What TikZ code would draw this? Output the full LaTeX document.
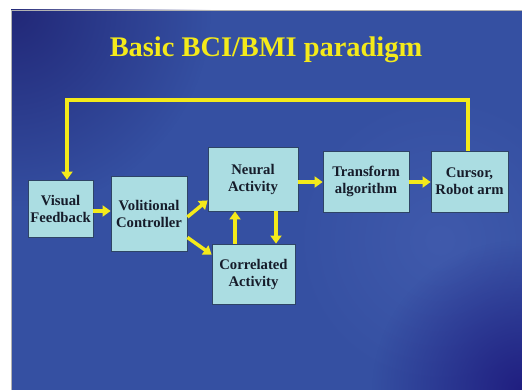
\documentclass[tikz,border=0pt]{standalone}
\usepackage{fontspec}
\setmainfont{Liberation Serif}
\usetikzlibrary{arrows.meta,fadings}
\tikzfading[name=glowfade, inner color=transparent!0, outer color=transparent!100]
\tikzstyle{block} = [rectangle, draw=boxline, line width=0.8pt, fill=boxfill, text=boxtext, align=center, inner sep=0pt, font=\bfseries\fontsize{14.7}{17}\selectfont]
\tikzstyle{arrow} = [draw=flowcolor, line width=3.5pt, -{Triangle[width=11pt,length=8pt]}]
\tikzstyle{glow} = [path fading=glowfade]

\begin{document}
\begin{tikzpicture}[x=1pt,y=-1pt]
  % Colors
  \definecolor{slideblue}{RGB}{53,80,162}
  \definecolor{cornerdark}{RGB}{34,40,120}
  \definecolor{cornerlow}{RGB}{32,30,128}
  \definecolor{slidelight}{RGB}{64,90,172}
  \definecolor{boxfill}{HTML}{ABDDE2}
  \definecolor{boxline}{HTML}{2E4466}
  \definecolor{boxtext}{HTML}{161C2A}
  \definecolor{flowcolor}{HTML}{F4EA1A}

  % Slide
  \useasboundingbox (0,0) rectangle (522,390);
  \fill[white] (0,0) rectangle (522,390);
  \begin{scope}
    \clip (11,10) rectangle (522,390);
    \fill[slideblue] (11,10) rectangle (522,390);
    \fill[slidelight,glow] (440,240) circle (150);
    \fill[cornerdark,glow] (11,10) circle (200);
    \fill[cornerlow,glow] (522,390) circle (150);
  \end{scope}
  \draw[gray!60,line width=0.6pt] (11,390) -- (11,10) -- (522,10);

  \node[anchor=base,text=flowcolor,font=\bfseries\fontsize{28.4}{32}\selectfont]
    (title) at (266,57) {Basic BCI/BMI paradigm};

  % The blocks
  \node[block,minimum width=65pt,minimum height=57pt] (vf) at (60.5,208.5) {Visual\\Feedback};
  \node[block,minimum width=76pt,minimum height=75pt] (vc) at (149,213.5) {Volitional\\Controller};
  \node[block,minimum width=90pt,minimum height=64pt] (na) at (253,179) {Neural\\Activity};
  \node[block,minimum width=83pt,minimum height=60pt] (ca) at (253.5,274) {Correlated\\Activity};
  \node[block,minimum width=86pt,minimum height=61pt] (ta) at (366,181.5) {Transform\\algorithm};
  \node[block,minimum width=77pt,minimum height=61pt] (cr) at (469.5,181.5) {Cursor,\\Robot arm};
  \coordinate (loop) at (268,100);

  % Connectors
  \draw[arrow] ([yshift=-2.5pt]vf.east) -- ([yshift=-2.5pt]vf.east -| vc.west);
  \draw[arrow] ([yshift=-3.5pt]vc.east) -- ([yshift=11pt]na.south west);
  \draw[arrow] ([yshift=14pt]vc.south east) -- ([yshift=-11pt]ca.north west);
  \draw[arrow] ([xshift=-18.5pt]ca.north) -- ([xshift=-18pt]na.south);
  \draw[arrow] ([xshift=23pt]na.south) -- ([xshift=22.5pt]ca.north);
  \draw[arrow] ([yshift=-3pt]na.east) -- ([yshift=-3pt]na.east -| ta.west);
  \draw[arrow] ([yshift=-0.5pt]ta.east) -- ([yshift=-0.5pt]ta.east -| cr.west);
  \draw[arrow] ([xshift=-1.5pt]cr.north) |- (loop) -| ([xshift=6.5pt]vf.north);
\end{tikzpicture}
\end{document}
